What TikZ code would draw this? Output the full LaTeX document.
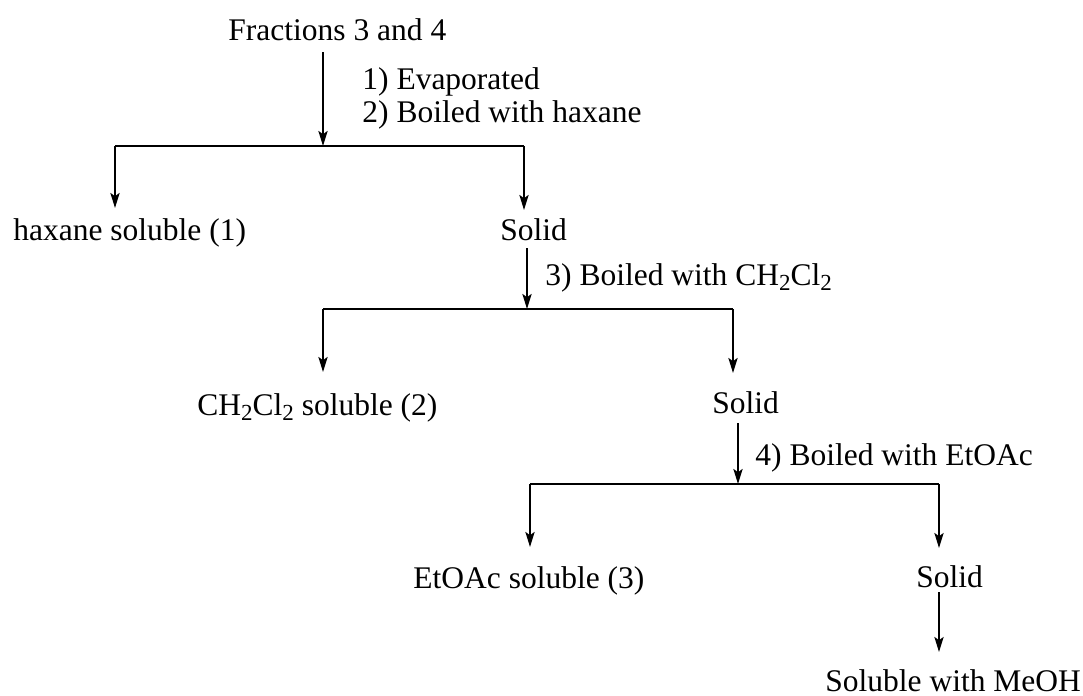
\documentclass[tikz,border=0pt]{standalone}
\usepackage{fontspec}
\setmainfont{Liberation Serif}
\usetikzlibrary{arrows.meta,calc}
\newcommand\subtwo{\raisebox{-0.4ex}{\fontsize{11.5}{12}\selectfont 2}}
\begin{document}
\begin{tikzpicture}[x=0.5pt,y=-0.5pt,
  every node/.style={inner sep=0pt,anchor=base west,font=\fontsize{15.75}{18}\selectfont},
  ln/.style={line width=1pt},
  arr/.style={line width=1pt,-{Stealth[length=7.5pt,width=4.6pt,inset=1.6pt]}}]
\useasboundingbox (0,0) rectangle (1083,696);
% text nodes
\node (frac) at (228,40) {Fractions 3 and 4};
\node (l1) at (362,90) {1) Evaporated};
\node (l2) at (362,122) {2) Boiled with haxane};
\node (hex) at (13,240) {haxane soluble (1)};
\node (s1) at (500,240) {Solid};
\node (l3) at (545,285) {3) Boiled with CH\subtwo Cl\subtwo};
\node (dcm) at (197,415) {CH\subtwo Cl\subtwo{} soluble (2)};
\node (s2) at (712,413) {Solid};
\node (l4) at (755,465) {4) Boiled with EtOAc};
\node (eta) at (413,588) {EtOAc soluble (3)};
\node (s3) at (916,587) {Solid};
\node (meoh) at (825,691) {Soluble with MeOH};
% junction coordinates
\coordinate (j1) at (323,146);
\coordinate (a1) at (115,146);
\coordinate (b1) at (524,146);
\coordinate (j2) at (527,309);
\coordinate (a2) at (323,309);
\coordinate (b2) at (733,309);
\coordinate (j3) at (738,484);
\coordinate (a3) at (530,484);
\coordinate (b3) at (939,484);
% level 1
\draw[arr] ($(frac.base -| j1)+(0,12)$) -- (j1);
\draw[ln] (a1) -- (b1);
\draw[arr] (a1) -- ($(hex.base -| a1)+(0,-32)$);
\draw[arr] (b1) -- ($(s1.base -| b1)+(0,-30)$);
% level 2
\draw[arr] ($(s1.base -| j2)+(0,8)$) -- (j2);
\draw[ln] (a2) -- (b2);
\draw[arr] (a2) -- ($(dcm.base -| a2)+(0,-43)$);
\draw[arr] (b2) -- ($(s2.base -| b2)+(0,-40)$);
% level 3
\draw[arr] ($(s2.base -| j3)+(0,10)$) -- (j3);
\draw[ln] (a3) -- (b3);
\draw[arr] (a3) -- ($(eta.base -| a3)+(0,-41)$);
\draw[arr] (b3) -- ($(s3.base -| b3)+(0,-39)$);
% final
\draw[arr] ($(s3.base -| b3)+(0,5)$) -- ($(meoh.base -| b3)+(0,-39)$);
\end{tikzpicture}
\end{document}
